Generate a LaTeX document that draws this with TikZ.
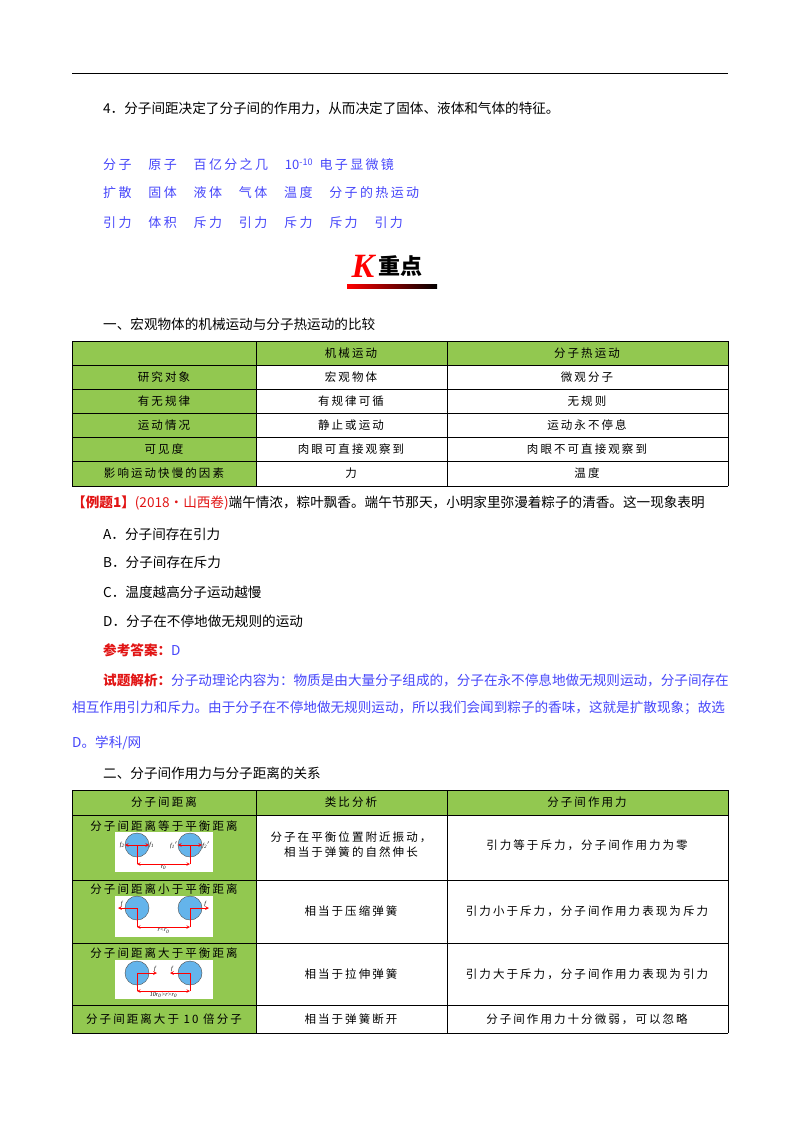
\documentclass[tikz,border=0pt]{standalone}
\usepackage{fontspec}
\setmainfont{Liberation Serif}
\newfontfamily\cjk{Noto Sans CJK SC}
\newfontfamily\cjkw[LetterSpace=18]{Noto Sans CJK SC}
\usetikzlibrary{positioning}
\definecolor{cellgreen}{RGB}{146,200,80}
\definecolor{keyblue}{RGB}{70,70,250}
\definecolor{keyred}{RGB}{225,20,20}
\definecolor{ballblue}{RGB}{100,180,235}
\tikzset{
  body/.style={anchor=west,inner sep=0pt,font=\cjk\fontsize{13.6}{16}\selectfont},
  key/.style={anchor=west,inner sep=0pt,font=\cjkw\fontsize{13}{16}\selectfont,text=keyblue},
  cell/.style={inner sep=0pt,font=\cjkw\fontsize{11.5}{15}\selectfont},
  grid/.style={draw=black,line width=0.6pt},
  ball/.style={circle,draw=black!70,fill=ballblue,minimum size=24pt,inner sep=0pt},
  force/.style={draw=red,line width=0.7pt,-stealth},
  tiny/.style={inner sep=0pt,font=\fontsize{6}{6}\itshape\selectfont},
}
\begin{document}
\begin{tikzpicture}[x=1pt,y=-1pt]
\useasboundingbox (0,0) rectangle (800,1132);
\draw[line width=0.8pt] (72,73) -- (728,73);
\node[body] (pt4) at (103,108) {4．分子间距决定了分子间的作用力，从而决定了固体、液体和气体的特征。};
% key words
\node[key] (k1) at (103,165) {分子\hspace{1.3em}原子\hspace{1.3em}百亿分之几\hspace{1.3em}{\cjk 10\textsuperscript{-10}}\hspace{0.5em}电子显微镜};
\node[key] (k2) at (103,193) {扩散\hspace{1.3em}固体\hspace{1.3em}液体\hspace{1.3em}气体\hspace{1.3em}温度\hspace{1.3em}分子的热运动};
\node[key] (k3) at (103,223) {引力\hspace{1.3em}体积\hspace{1.3em}斥力\hspace{1.3em}引力\hspace{1.3em}斥力\hspace{1.3em}斥力\hspace{1.3em}引力};
% K heading
\node[inner sep=0pt,text=red,font=\bfseries\itshape\fontsize{34}{34}\selectfont] (kk) at (363,266) {K};
\node[inner sep=0pt,font=\cjk\bfseries\fontsize{22}{22}\selectfont,right=4pt of kk] (kz) {重点};
\shade[left color=red,right color=black] (347,284) rectangle (437,288);
\node[body] (s1) at (103,324) {一、宏观物体的机械运动与分子热运动的比较};
% table 1
\fill[cellgreen] (72,341) rectangle (728,365);
\fill[cellgreen] (72,341) rectangle (256,486);
\foreach \y in {341,365,389,413,437,461,486} \draw[grid] (72,\y) -- (728,\y);
\foreach \x in {72,256,447,728} \draw[grid] (\x,341) -- (\x,486);
\node[cell] (h2) at (351,353) {机械运动};
\node[cell] (h3) at (587,353) {分子热运动};
\foreach \t/\a/\b [count=\i] in {研究对象/宏观物体/微观分子,有无规律/有规律可循/无规则,运动情况/静止或运动/运动永不停息,可见度/肉眼可直接观察到/肉眼不可直接观察到,影响运动快慢的因素/力/温度}{
  \node[cell] (ra\i) at (164,353+24*\i) {\t};
  \node[cell] (rb\i) at (351,353+24*\i) {\a};
  \node[cell] (rc\i) at (587,353+24*\i) {\b};
}
% example
\node[body,anchor=west] (ex) at (72,503) {\textcolor{keyred}{\bfseries【例题1】}\textcolor{keyred}{(2018·山西卷)}端午情浓，粽叶飘香。端午节那天，小明家里弥漫着粽子的清香。这一现象表明};
\node[body] (oa) at (103,534) {A．分子间存在引力};
\node[body] (ob) at (103,562) {B．分子间存在斥力};
\node[body] (oc) at (103,592) {C．温度越高分子运动越慢};
\node[body] (od) at (103,621) {D．分子在不停地做无规则的运动};
\node[body] (ans) at (103,650) {\textcolor{keyred}{\bfseries 参考答案：}\textcolor{keyblue}{D}};
\node[body] (an1) at (103,680) {\textcolor{keyred}{\bfseries 试题解析：}\textcolor{keyblue}{分子动理论内容为：物质是由大量分子组成的，分子在永不停息地做无规则运动，分子间存在}};
\node[body,text=keyblue] (an2) at (72,708) {相互作用引力和斥力。由于分子在不停地做无规则运动，所以我们会闻到粽子的香味，这就是扩散现象；故选};
\node[body,text=keyblue] (an3) at (72,743) {D。学科/网};
\node[body] (s2) at (103,773) {二、分子间作用力与分子距离的关系};
% table 2
\fill[cellgreen] (72,790) rectangle (728,815);
\fill[cellgreen] (72,790) rectangle (256,1033);
\foreach \y in {790,815,880,943,1005,1033} \draw[grid] (72,\y) -- (728,\y);
\foreach \x in {72,256,447,728} \draw[grid] (\x,790) -- (\x,1033);
\node[cell] (g1) at (164,802) {分子间距离};
\node[cell] (g2) at (351,802) {类比分析};
\node[cell] (g3) at (587,802) {分子间作用力};
\node[cell] (d1) at (164,826) {分子间距离等于平衡距离};
\node[cell] (d2) at (164,889) {分子间距离小于平衡距离};
\node[cell] (d3) at (164,953) {分子间距离大于平衡距离};
\node[cell] (d4) at (164,1019) {分子间距离大于 10 倍分子};
\node[cell,align=center] (e1) at (351,845) {分子在平衡位置附近振动，\\相当于弹簧的自然伸长};
\node[cell] (e2) at (351,911) {相当于压缩弹簧};
\node[cell] (e3) at (351,974) {相当于拉伸弹簧};
\node[cell] (e4) at (351,1019) {相当于弹簧断开};
\node[cell] (f1) at (587,845) {引力等于斥力，分子间作用力为零};
\node[cell] (f2) at (587,911) {引力小于斥力，分子间作用力表现为斥力};
\node[cell] (f3) at (587,974) {引力大于斥力，分子间作用力表现为引力};
\node[cell] (f4) at (587,1019) {分子间作用力十分微弱，可以忽略};
% small pictures
\foreach \top/\bot in {832/872,896/937,960/999} \fill[white] (115,\top) rectangle (213,\bot);
% row 1
\node[ball] (p1) at (137,845) {};
\node[ball] (q1) at (190,845) {};
\coordinate (p1b) at (137,864); \coordinate (q1b) at (190,864);
\draw[red,line width=0.6pt] (p1.center) -- (p1b) (q1.center) -- (q1b);
\draw[red,line width=0.6pt,stealth-stealth] (p1b) -- (q1b) node[tiny,text=black,midway,below=1pt] {r\textsubscript{0}};
\draw[force] (p1.center) -- (p1.west);
\draw[force] (p1.center) -- (p1.east);
\draw[force] (q1.center) -- (q1.west);
\draw[force] (q1.center) -- (q1.east);
\node[tiny,left=0pt of p1.west] (f2a) {f\textsubscript{2}};
\node[tiny,right=0pt of p1.east] (f1a) {f\textsubscript{1}};
\node[tiny,left=0pt of q1.west] (f1b) {f\textsubscript{1}$'$};
\node[tiny,right=0pt of q1.east] (f2b) {f\textsubscript{2}$'$};
% row 2
\node[ball] (p2) at (137,908) {};
\node[ball] (q2) at (190,908) {};
\coordinate (p2b) at (137,927); \coordinate (q2b) at (190,927);
\draw[red,line width=0.6pt] (p2.center) -- (p2b) (q2.center) -- (q2b);
\draw[red,line width=0.6pt,stealth-stealth] (p2b) -- (q2b) node[tiny,text=black,midway,below=1pt] {r<r\textsubscript{0}};
\coordinate (p2l) at (118,908); \coordinate (q2r) at (209,908);
\draw[force] (p2.center) -- (p2l) node[tiny,text=black,above=1pt,pos=0.8] {f};
\draw[force] (q2.center) -- (q2r) node[tiny,text=black,above=1pt,pos=0.8] {f};
% row 3
\node[ball] (p3) at (137,973) {};
\node[ball] (q3) at (190,973) {};
\coordinate (p3b) at (137,991); \coordinate (q3b) at (190,991);
\draw[red,line width=0.6pt] (p3.center) -- (p3b) (q3.center) -- (q3b);
\draw[red,line width=0.6pt,stealth-stealth] (p3b) -- (q3b) node[tiny,text=black,midway,below=1pt] {10r\textsubscript{0}>r>r\textsubscript{0}}; 
\coordinate (p3r) at (157,973); \coordinate (q3l) at (170,973);
\draw[force] (p3.center) -- (p3r) node[tiny,text=black,above=1pt,pos=0.9] {f};
\draw[force] (q3.center) -- (q3l) node[tiny,text=black,above=1pt,pos=0.9] {f};
\end{tikzpicture}
\end{document}
